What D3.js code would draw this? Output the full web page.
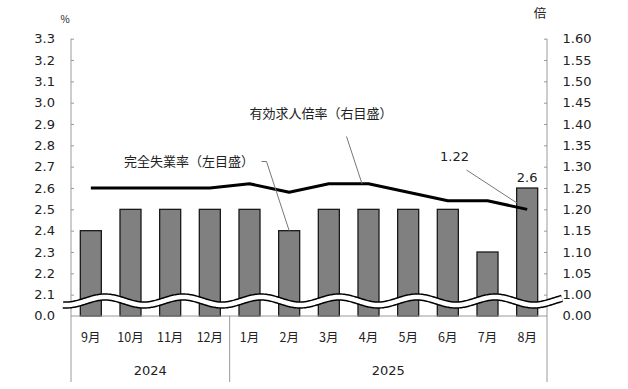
<!DOCTYPE html>
<html><head><meta charset="utf-8">
<script src="https://cdn.jsdelivr.net/npm/d3@7"></script>
<style>
html,body{margin:0;padding:0;background:#fff;}
text{font-family:"DejaVu Sans",sans-serif;fill:#222;}
.jp{font-family:"Noto Sans CJK JP",sans-serif;}
</style></head>
<body>
<svg id="c" width="628" height="389"></svg>
<script>
const months = ["9月","10月","11月","12月","1月","2月","3月","4月","5月","6月","7月","8月"];
const years = [{label:"2024", from:0, to:4},{label:"2025", from:4, to:12}];
const unemployment = [2.4,2.5,2.5,2.5,2.5,2.4,2.5,2.5,2.5,2.5,2.3,2.6];
const jobsRatio = [1.25,1.25,1.25,1.25,1.26,1.24,1.26,1.26,1.24,1.22,1.22,1.20];
const leftTicks = [2.1,2.2,2.3,2.4,2.5,2.6,2.7,2.8,2.9,3.0,3.1,3.2,3.3];
const rightTicks = [1.00,1.05,1.10,1.15,1.20,1.25,1.30,1.35,1.40,1.45,1.50,1.55,1.60];
const leftZeroLabel = "0.0", rightZeroLabel = "0.00";
const lastBarLabel = "2.6", lastLineLabel = "1.22";
const seriesLabels = ["完全失業率（左目盛）","有効求人倍率（右目盛）"];

const svg = d3.select("#c");
const X0 = 71, X1 = 547, YB = 316, YT = 38.7;
const FS = 13;
const x = d3.scaleBand().domain(months).range([X0, X1]).paddingInner(0.47).paddingOuter(0.235);
const yL = d3.scaleLinear().domain([2.0, 3.3]).range([YB, YT]);
const yR = d3.scaleLinear().domain([0.95, 1.60]).range([YB, YT]);
const cx = m => x(m) + x.bandwidth()/2;
const axisCol = "#9a9a9a";

// bars
svg.selectAll("rect.bar").data(unemployment).join("rect")
  .attr("x", (d,i)=>x(months[i])).attr("width", x.bandwidth())
  .attr("y", d=>yL(d)).attr("height", d=>YB - yL(d))
  .attr("fill", "#808080").attr("stroke", "#1a1a1a").attr("stroke-width", 1.3);

// axes
const axL = d3.axisLeft(yL).tickValues(leftTicks).tickSize(-3).tickFormat(d3.format(".1f")).tickPadding(18);
const gL = svg.append("g").attr("transform", `translate(${X0},0)`).call(axL);
const axR = d3.axisRight(yR).tickValues(rightTicks).tickSize(-3).tickFormat(d3.format(".2f")).tickPadding(18);
const gR = svg.append("g").attr("transform", `translate(${X1},0)`).call(axR);
[gL,gR].forEach(g=>{
  g.select(".domain").remove();
  g.selectAll(".tick line").attr("stroke", axisCol);
  g.selectAll(".tick text").attr("font-size", FS).attr("font-family","DejaVu Sans").attr("fill","#222");
});
gL.selectAll(".tick text").attr("x", -16);
gR.selectAll(".tick text").attr("x", 15.5);
svg.append("text").attr("x", X0-16).attr("y", yL(2.0)).attr("dy","0.32em").attr("text-anchor","end").attr("font-size",FS).text(leftZeroLabel);
svg.append("text").attr("x", X1+15.5).attr("y", yR(0.95)).attr("dy","0.32em").attr("text-anchor","start").attr("font-size",FS).text(rightZeroLabel);

// axis lines
svg.append("line").attr("x1",X0).attr("x2",X0).attr("y1",YT).attr("y2",382).attr("stroke",axisCol);
svg.append("line").attr("x1",X1).attr("x2",X1).attr("y1",YT).attr("y2",382).attr("stroke",axisCol);
svg.append("line").attr("x1",X0).attr("x2",X1).attr("y1",YB).attr("y2",YB).attr("stroke",axisCol);
// year divider
svg.append("line").attr("x1",x.step()*4+X0).attr("x2",x.step()*4+X0).attr("y1",YB).attr("y2",382).attr("stroke",axisCol);

// month labels
svg.selectAll("text.m").data(months).join("text").attr("class","jp")
  .attr("x", d=>cx(d)).attr("y", 338).attr("dy","0.35em").attr("text-anchor","middle").attr("font-size",12.5).text(d=>d);
svg.selectAll("text.y").data(years).join("text")
  .attr("x", d=>X0 + x.step()*(d.from+d.to)/2).attr("y", 370).attr("dy","0.35em").attr("text-anchor","middle").attr("font-size",FS).text(d=>d.label);

// units
svg.append("text").attr("class","jp").attr("x",65).attr("y",19).attr("dy","0.35em").attr("text-anchor","middle").attr("font-size",10).text("%");
svg.append("text").attr("class","jp").attr("x",540).attr("y",14).attr("dy","0.35em").attr("text-anchor","middle").attr("font-size",12.5).text("倍");

// break wave
const wave = d3.range(63, 563, 1).map(px => [px, 301 - 4*Math.sin(2*Math.PI*(px-85.5)/78)]);
const wl = d3.line();
svg.append("path").attr("d", wl(wave)).attr("fill","none").attr("stroke","#000").attr("stroke-width",7.5);
svg.append("path").attr("d", wl(wave)).attr("fill","none").attr("stroke","#fff").attr("stroke-width",4.5);

// line
const line = d3.line().x((d,i)=>cx(months[i])).y(d=>yR(d));
svg.append("path").datum(jobsRatio).attr("d", line).attr("fill","none").attr("stroke","#000").attr("stroke-width",3).attr("stroke-linejoin","round");

// annotations
const lead = "#777";
svg.append("text").attr("class","jp").attr("x",124).attr("y",161.5).attr("dy","0.35em").attr("font-size",13).text(seriesLabels[0]);
svg.append("path").attr("d", `M261.5,161.5 L266.5,161.5 L${cx(months[5])},${yL(unemployment[5])}`).attr("fill","none").attr("stroke",lead).attr("stroke-width",1);
svg.append("text").attr("class","jp").attr("x",249.5).attr("y",113).attr("dy","0.35em").attr("font-size",13).text(seriesLabels[1]);
svg.append("line").attr("x1",346.5).attr("y1",136.5).attr("x2",362).attr("y2",yR(jobsRatio[7])).attr("stroke",lead).attr("stroke-width",1);
svg.append("text").attr("x",440).attr("y",156).attr("dy","0.35em").attr("font-size",FS).text(lastLineLabel);
svg.append("line").attr("x1",466.5).attr("y1",170).attr("x2",517).attr("y2",203).attr("stroke",lead).attr("stroke-width",1);
svg.append("text").attr("x",cx(months[11])).attr("y",yL(unemployment[11])-11).attr("dy","0.35em").attr("text-anchor","middle").attr("font-size",FS).text(lastBarLabel);
</script>
</body></html>
